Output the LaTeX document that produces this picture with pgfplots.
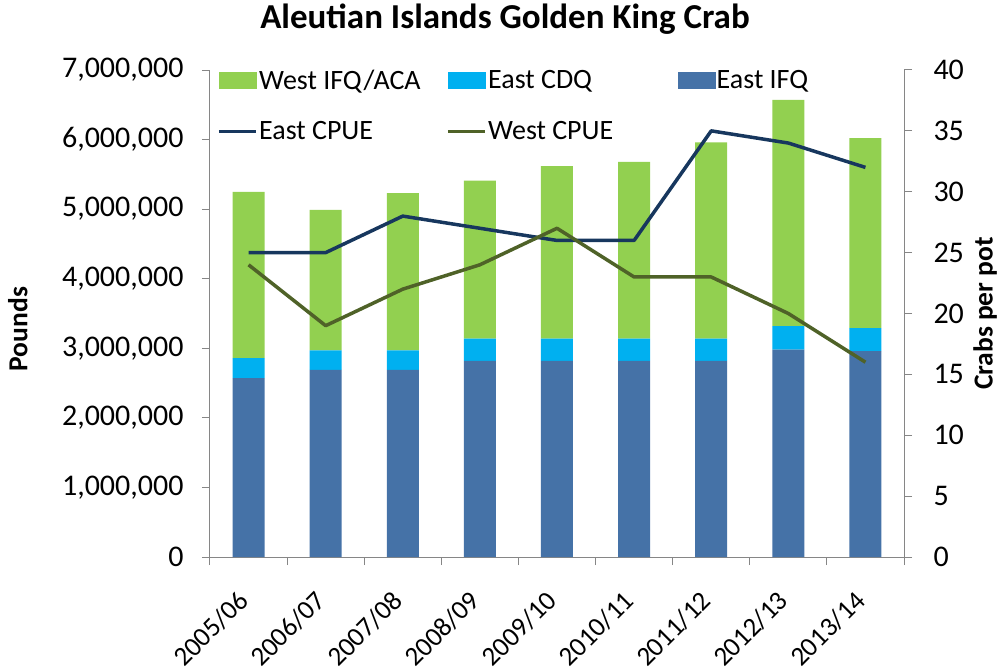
\documentclass[border=0pt]{standalone}
\usepackage{pgfplots}
\pgfplotsset{compat=1.18}
\usepackage{fontspec}
\setmainfont{Carlito}
\definecolor{westg}{RGB}{146,208,80}
\definecolor{cdq}{RGB}{0,176,240}
\definecolor{eifq}{RGB}{69,114,167}
\definecolor{ecpue}{RGB}{23,55,94}
\definecolor{wcpue}{RGB}{79,98,40}
\definecolor{axgray}{RGB}{134,134,134}
\begin{document}
\begin{tikzpicture}
\path[use as bounding box] (-210pt,-110pt) rectangle (788pt,557pt);
\pgfplotsset{
 common/.style={
  at={(0,0)}, anchor=south west,
  scale only axis, width=694pt, height=487pt,
  xmin=-0.5, xmax=8.5,
  axis line style={axgray, line width=1pt},
  tick style={axgray, line width=1pt},
  tick align=outside,
  major tick length=8pt, minor tick length=8pt,
  tick label style={font=\fontsize{30}{36}\selectfont},
  /pgf/number format/assume math mode=true,
  label style={font=\bfseries\fontsize{27.5}{33}\selectfont},
 }
}
\begin{axis}[common,
  ybar stacked, bar width=32pt,
  ymin=0, ymax=7000000,
  axis y line*=left, axis x line*=bottom,
  ytick={0,1000000,2000000,3000000,4000000,5000000,6000000,7000000},
  scaled y ticks=false,
  yticklabel style={xshift=-15pt, /pgf/number format/.cd, fixed, 1000 sep={,}},
  xtick={0,1,2,3,4,5,6,7,8},
  xticklabels={2005/06,2006/07,2007/08,2008/09,2009/10,2010/11,2011/12,2012/13,2013/14},
  xticklabel style={font=\fontsize{27}{32}\selectfont, inner sep=0pt, yshift=-24pt, xshift=-12pt, rotate=45, anchor=north east},
  major x tick style={draw=none},
  minor xtick={-0.5,0.5,1.5,2.5,3.5,4.5,5.5,6.5,7.5,8.5},
  ylabel={Pounds},
  ylabel style={at={(axis description cs:-0.277,0.468)}, anchor=center},
]
\addplot[fill=eifq, draw=none] coordinates {(0,2570000) (1,2690000) (2,2690000) (3,2820000) (4,2820000) (5,2820000) (6,2820000) (7,2980000) (8,2960000)};
\addplot[fill=cdq, draw=none] coordinates {(0,290000) (1,280000) (2,280000) (3,320000) (4,320000) (5,320000) (6,320000) (7,340000) (8,330000)};
\addplot[fill=westg, draw=none] coordinates {(0,2390000) (1,2020000) (2,2260000) (3,2270000) (4,2480000) (5,2540000) (6,2820000) (7,3250000) (8,2730000)};
\end{axis}
\begin{axis}[common,
  ymin=0, ymax=40,
  axis y line*=right, axis x line=none,
  ytick={0,5,10,15,20,25,30,35,40},
  yticklabel style={xshift=18pt},
  ylabel={Crabs per pot},
  ylabel style={at={(axis description cs:1.117,0.5)}, anchor=center, rotate=0},
  title={Aleutian Islands Golden King Crab},
  title style={at={(axis description cs:0.425,1.092)}, anchor=center, font=\bfseries\fontsize{35}{42}\selectfont},
  legend columns=3,
  legend cell align=left,
  legend style={draw=none, fill=none, at={(axis description cs:0.010,1.004)}, anchor=north west,
    font=\fontsize{28}{34}\selectfont, row sep=28pt, inner sep=0pt,
    nodes={inner sep=1.5pt},
    /tikz/column 2/.style={column sep=24pt},
    /tikz/column 4/.style={column sep=63pt}},
]
\addlegendimage{legend image code/.code={\fill[westg] (0pt,-8pt) rectangle (37pt,8pt);}}
\addlegendentry{West IFQ/ACA}
\addlegendimage{legend image code/.code={\fill[cdq] (0pt,-8pt) rectangle (37pt,8pt);}}
\addlegendentry{East CDQ}
\addlegendimage{legend image code/.code={\fill[eifq] (0pt,-8pt) rectangle (37pt,8pt);}}
\addlegendentry{East IFQ}
\addplot[ecpue, line width=3.5pt, mark=none, line join=round, legend image code/.code={\draw[ecpue, line width=3.5pt] (0pt,0pt) -- (37pt,0pt);}] coordinates {(0,25) (1,25) (2,28) (3,27) (4,26) (5,26) (6,35) (7,34) (8,32)};
\addlegendentry{East CPUE}
\addplot[wcpue, line width=3.5pt, mark=none, line join=round, legend image code/.code={\draw[wcpue, line width=3.5pt] (0pt,0pt) -- (37pt,0pt);}] coordinates {(0,24) (1,19) (2,22) (3,24) (4,27) (5,23) (6,23) (7,20) (8,16)};
\addlegendentry{West CPUE}
\end{axis}
\end{tikzpicture}
\end{document}
